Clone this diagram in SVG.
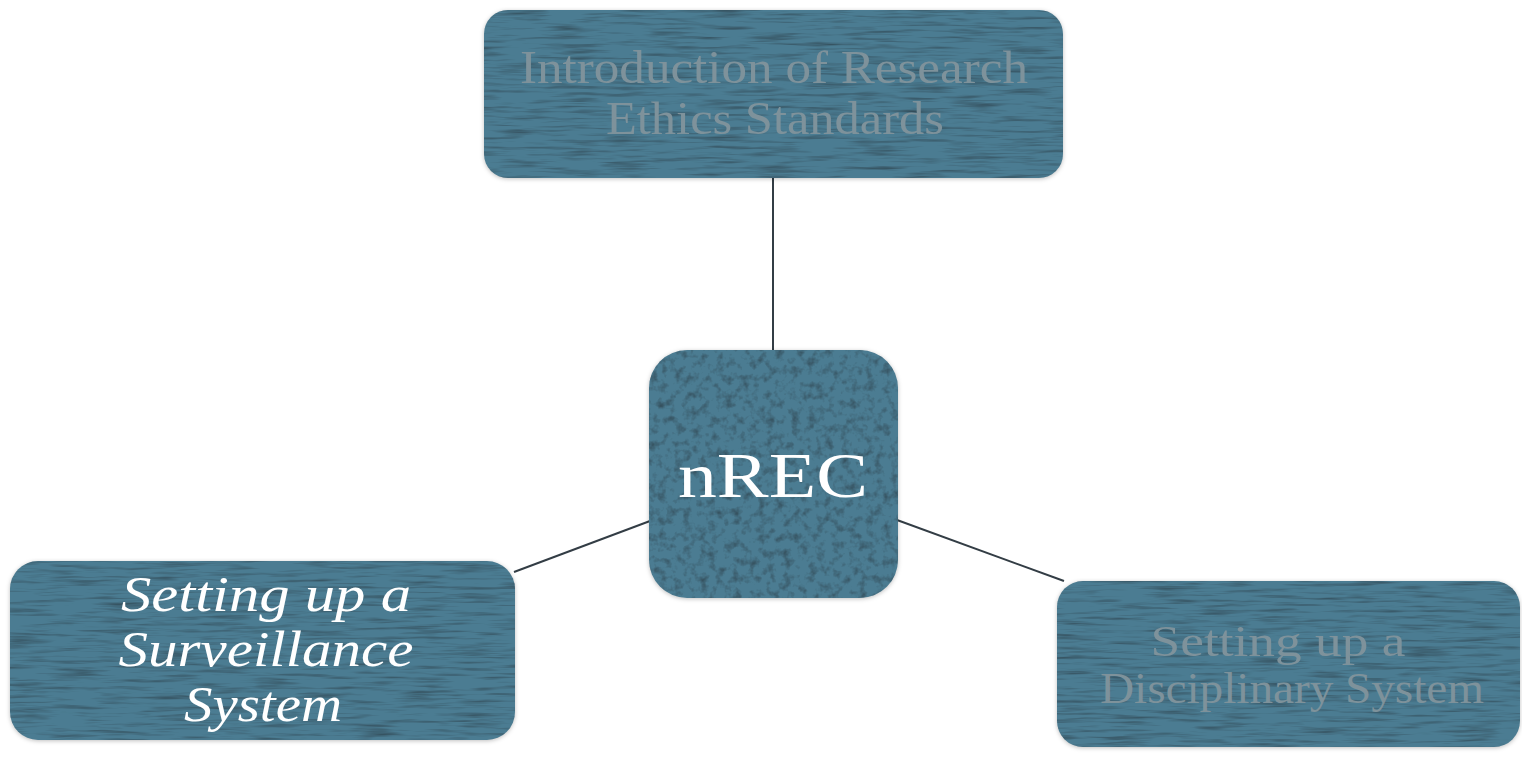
<svg xmlns="http://www.w3.org/2000/svg" width="1522" height="768" viewBox="0 0 1522 768">
<defs>
<filter id="tex" x="-2%" y="-2%" width="104%" height="106%" color-interpolation-filters="sRGB">
<feTurbulence type="fractalNoise" baseFrequency="0.02 0.3" numOctaves="3" seed="4" result="n"/>
<feColorMatrix in="n" type="matrix" values="0 0 0 0 0.2  0 0 0 0 0.3  0 0 0 0 0.35  0 0 0 -2 1.05" result="dark"/>
<feComposite in="dark" in2="SourceGraphic" operator="in" result="d2"/>
<feGaussianBlur in="SourceAlpha" stdDeviation="2" result="b"/>
<feOffset in="b" dx="0" dy="1" result="sh"/>
<feFlood flood-color="#000" flood-opacity="0.25"/>
<feComposite in2="sh" operator="in" result="shadow"/>
<feMerge><feMergeNode in="shadow"/><feMergeNode in="SourceGraphic"/><feMergeNode in="d2"/></feMerge>
</filter>
<filter id="tex2" x="-2%" y="-2%" width="104%" height="106%" color-interpolation-filters="sRGB">
<feTurbulence type="fractalNoise" baseFrequency="0.12 0.12" numOctaves="3" seed="7" result="n"/>
<feColorMatrix in="n" type="matrix" values="0 0 0 0 0.2  0 0 0 0 0.3  0 0 0 0 0.35  0 0 0 -2 1.05" result="dark"/>
<feComposite in="dark" in2="SourceGraphic" operator="in" result="d2"/>
<feGaussianBlur in="SourceAlpha" stdDeviation="2" result="b"/>
<feOffset in="b" dx="0" dy="1" result="sh"/>
<feFlood flood-color="#000" flood-opacity="0.25"/>
<feComposite in2="sh" operator="in" result="shadow"/>
<feMerge><feMergeNode in="shadow"/><feMergeNode in="SourceGraphic"/><feMergeNode in="d2"/></feMerge>
</filter>
</defs>
<style>
.box{fill:#4b7c92;}
.dim{font-family:"Liberation Serif",serif;fill:#7e929b;text-anchor:middle;}
.bright{font-family:"Liberation Serif",serif;fill:#ffffff;text-anchor:middle;}
.conn{stroke:#333d45;stroke-width:2;fill:none;}
</style>
<rect width="1522" height="768" fill="#ffffff"/>
<g id="connectors">
<line class="conn" x1="773" y1="177" x2="773" y2="351"/>
<line class="conn" x1="514" y1="572" x2="650" y2="521"/>
<line class="conn" x1="897" y1="520" x2="1064" y2="581"/>
</g>
<g id="node-top">
<rect class="box" x="484" y="10" width="579" height="168" rx="24" filter="url(#tex)"/>
<text class="dim" font-size="46" x="774" y="83" textLength="508" lengthAdjust="spacingAndGlyphs">Introduction of Research</text>
<text class="dim" font-size="46" x="775" y="134" textLength="338" lengthAdjust="spacingAndGlyphs">Ethics Standards</text>
</g>
<g id="node-center">
<rect class="box" x="649" y="350" width="249" height="248" rx="38" filter="url(#tex2)"/>
<text class="bright" font-size="64" x="773" y="497" textLength="190" lengthAdjust="spacingAndGlyphs">nREC</text>
</g>
<g id="node-left">
<rect class="box" x="10" y="561" width="505" height="179" rx="28" filter="url(#tex)"/>
<text class="bright" font-size="50" font-style="italic" x="266" y="611" textLength="290" lengthAdjust="spacingAndGlyphs">Setting up a</text>
<text class="bright" font-size="50" font-style="italic" x="266" y="666" textLength="295" lengthAdjust="spacingAndGlyphs">Surveillance</text>
<text class="bright" font-size="50" font-style="italic" x="263" y="721" textLength="158" lengthAdjust="spacingAndGlyphs">System</text>
</g>
<g id="node-right">
<rect class="box" x="1057" y="581" width="463" height="166" rx="26" filter="url(#tex)"/>
<text class="dim" font-size="44" x="1278" y="656" textLength="255" lengthAdjust="spacingAndGlyphs">Setting up a</text>
<text class="dim" font-size="44" x="1292" y="703" textLength="384" lengthAdjust="spacingAndGlyphs">Disciplinary System</text>
</g>
</svg>
